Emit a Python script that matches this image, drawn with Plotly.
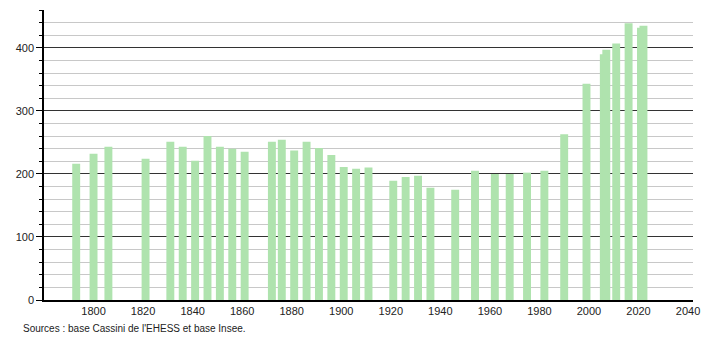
import plotly.graph_objects as go

years = [1793, 1800, 1806, 1821, 1831, 1836, 1841, 1846, 1851, 1856, 1861,
         1872, 1876, 1881, 1886, 1891, 1896, 1901, 1906, 1911, 1921, 1926,
         1931, 1936, 1946, 1954, 1962, 1968, 1975, 1982, 1990, 1999, 2006,
         2007, 2011, 2016, 2021, 2022]
population = [216, 232, 243, 224, 251, 243, 221, 260, 243, 240, 235,
              251, 254, 237, 251, 241, 230, 211, 208, 210, 189, 195,
              197, 178, 175, 205, 200, 200, 202, 205, 263, 343, 390,
              397, 407, 439, 432, 435]
x_ticks = [1800, 1820, 1840, 1860, 1880, 1900, 1920, 1940, 1960, 1980, 2000, 2020, 2040]
y_ticks = [0, 100, 200, 300, 400]
source_text = "Sources : base Cassini de l'EHESS et base Insee."

fig = go.Figure()
fig.add_trace(go.Bar(
    x=years, y=population, width=3.2,
    marker=dict(color="#afe3ae", line=dict(width=0)),
    hoverinfo="x+y",
))

fig.update_layout(
    width=710, height=340,
    margin=dict(l=44, r=10, t=10, b=40),
    paper_bgcolor="white", plot_bgcolor="white",
    font=dict(family="Liberation Sans, Arial, sans-serif", size=11, color="#222"),
    showlegend=False, barmode="overlay",
    xaxis=dict(
        range=[1780, 2042], tickvals=x_ticks, ticks="", showgrid=False,
        showline=True, linecolor="black", linewidth=1.5, zeroline=False,
        tickfont=dict(size=11, color="#222"),
    ),
    yaxis=dict(
        range=[0, 460], tickvals=y_ticks, ticks="outside", ticklen=6,
        tickcolor="black", showline=True, linecolor="black", linewidth=1.5,
        showgrid=True, gridcolor="#333", gridwidth=1, zeroline=False,
        tickfont=dict(size=11, color="#222"),
        minor=dict(dtick=20, ticks="outside", ticklen=3, tickcolor="black",
                   showgrid=True, gridcolor="#c8c8c8", gridwidth=1),
    ),
    annotations=[dict(
        text=source_text, xref="paper", yref="paper", x=-0.035, y=-0.097,
        xanchor="left", yanchor="middle", showarrow=False,
        font=dict(size=10, color="#222"),
    )],
)

fig.write_html("out.html")
